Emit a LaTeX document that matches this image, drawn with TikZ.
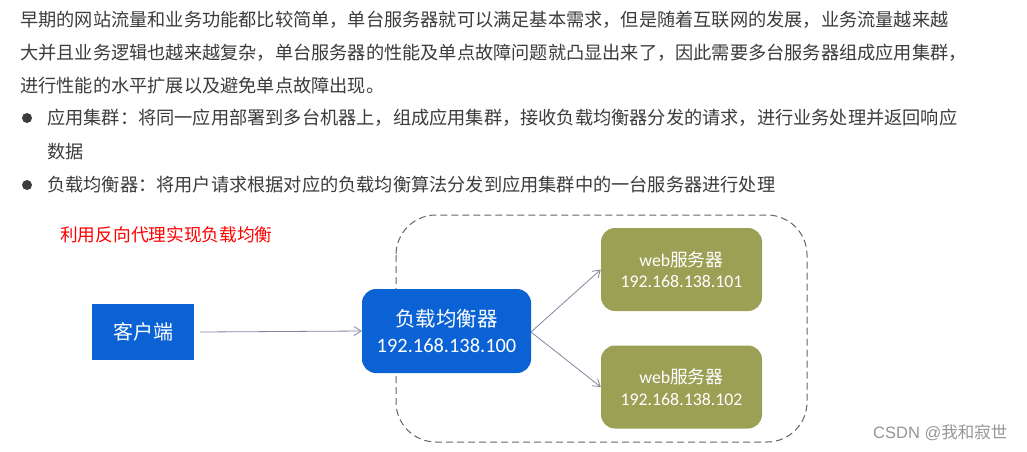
\documentclass[tikz,border=0pt]{standalone}
\usepackage{fontspec}
\setmainfont{Noto Sans CJK SC}
\newfontfamily\cjk{Noto Sans CJK SC}
\newfontfamily\latn{Carlito}
\newfontfamily\arialf{Liberation Sans}
\usetikzlibrary{arrows.meta}
\definecolor{bodytxt}{RGB}{60,60,60}
\definecolor{boxblue}{RGB}{10,98,212}
\definecolor{olive}{RGB}{155,160,85}
\definecolor{arrowc}{RGB}{130,135,160}
\definecolor{dashc}{RGB}{100,100,110}
\definecolor{wm}{RGB}{150,150,150}
\begin{document}
\begin{tikzpicture}[x=1pt,y=-1pt,
  body/.style={anchor=west,inner sep=0pt,text=bodytxt,font=\cjk\fontsize{18.2}{20}\selectfont},
  bluebox/.style={fill=boxblue,text=white,align=center,inner sep=0pt},
  webbox/.style={fill=olive,text=white,align=center,inner sep=0pt,rounded corners=14pt,minimum width=161pt,minimum height=83pt,font=\fontsize{17.8}{21.5}\selectfont},
  conn/.style={draw=arrowc,line width=0.8pt,-{Straight Barb[length=7pt,width=9pt]}},
  dot/.style={circle,fill=bodytxt,inner sep=0pt,minimum size=10pt}
]
\useasboundingbox (0,0) rectangle (1027,451);
\fill[white] (0,0) rectangle (1027,451);

\node[body] (l1) at (20,20) {早期的网站流量和业务功能都比较简单，单台服务器就可以满足基本需求，但是随着互联网的发展，业务流量越来越};
\node[body] (l2) at (20,53) {大并且业务逻辑也越来越复杂，单台服务器的性能及单点故障问题就凸显出来了，因此需要多台服务器组成应用集群，};
\node[body] (l3) at (20,86) {进行性能的水平扩展以及避免单点故障出现。};
\node[dot] (d1) at (27,118) {};
\node[body] (b1) at (47,118) {应用集群：将同一应用部署到多台机器上，组成应用集群，接收负载均衡器分发的请求，进行业务处理并返回响应};
\node[body] (b1b) at (47,152) {数据};
\node[dot] (d2) at (27,185) {};
\node[body] (b2) at (47,185) {负载均衡器：将用户请求根据对应的负载均衡算法分发到应用集群中的一台服务器进行处理};

\node[anchor=west,inner sep=0pt,text=red,font=\cjk\fontsize{17.7}{20}\selectfont] (title) at (60,235) {利用反向代理实现负载均衡};

\draw[dashc,dashed,dash pattern=on 7pt off 4pt,line width=1pt,rounded corners=40pt] (396,215) rectangle (807,442);

\node[bluebox,minimum width=102pt,minimum height=56pt,font=\cjk\fontsize{20}{24}\selectfont] (client) at (143,332) {客户端};
\node[bluebox,rounded corners=14pt,minimum width=169pt,minimum height=84pt,font=\fontsize{20.4}{26.5}\selectfont] (lb) at (446.5,331) {{\cjk 负载均衡器}\\[-1pt]{\latn 192.168.138.100}};

\node[webbox] (w1) at (681.5,269.5) {{\latn web}{\cjk 服务器}\\{\latn 192.168.138.101}};
\node[webbox] (w2) at (681.5,387) {{\latn web}{\cjk 服务器}\\{\latn 192.168.138.102}};

\coordinate (cs) at (200,332);
\coordinate (ls) at (531,332);
\draw[conn] (cs) -- (lb.west);
\draw[conn] (ls) -- (w1.west);
\draw[conn] (ls) -- (w2.west);

\node[anchor=west,inner sep=0pt,text=wm,font=\fontsize{16.5}{18}\selectfont] (wmk) at (873,433) {{\arialf CSDN @}{\cjk 我和寂世}};
\end{tikzpicture}
\end{document}
